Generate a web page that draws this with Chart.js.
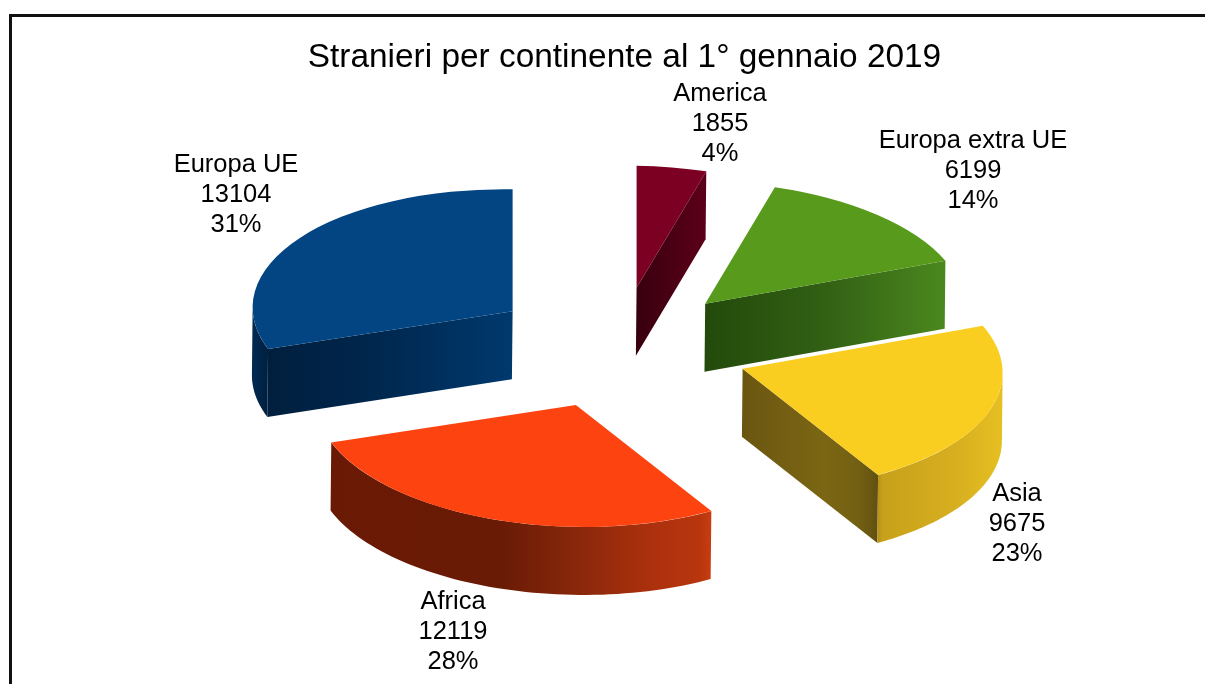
<!DOCTYPE html>
<html>
<head>
<meta charset="utf-8">
<style>
html,body{margin:0;padding:0;background:#fff;overflow:hidden}
#wrap{position:absolute;left:0;top:0;width:1205px;height:684px}
#frame{position:absolute;left:9px;top:14px;width:1300px;height:800px;border:3px solid #111;box-sizing:border-box}
canvas{position:absolute;left:0;top:0}
</style>
<script src="https://cdn.jsdelivr.net/npm/chart.js@4"></script>
</head>
<body>
<div id="wrap"><div id="frame"></div><canvas id="c" width="1205" height="684"></canvas></div>
<script>
const categories = ['America', 'Europa extra UE', 'Asia', 'Africa', 'Europa UE'];
const values = [1855, 6199, 9675, 12119, 13104];
const percents = ['4%', '14%', '23%', '28%', '31%'];
const topColors = ['#7b0022', '#579a1c', '#f9ce20', '#fd430f', '#024582'];

// Styling of the extruded walls (x-fraction, colour), not data
const radialShades = [
  [[0, '#38000f'], [1, '#5c0019']],
  [[0, '#234a0b'], [0.5, '#326014'], [1, '#4b881e']],
  [[0, '#6b5611'], [0.6, '#7b6614'], [0.85, '#746013'], [1, '#625010']],
  null,
  [[0, '#001f3e'], [0.4, '#00264c'], [1, '#00396e']]
];
const arcShades = [
  null,
  null,
  [[0, '#b8931a'], [0.04, '#c8a11b'], [0.6, '#d6ae1f'], [1, '#e6bf22']],
  [[0, '#6a1a04'], [0.45, '#6a1b05'], [0.62, '#84260a'], [0.85, '#ad310d'], [0.97, '#b8360e'], [1, '#c93d10']],
  [[0, '#002a52'], [1, '#001f3e']]
];
const labelCenters = [[720, 124], [973, 171], [1017, 524], [453, 632], [236, 195]];

const view = { cx: 619, cy: 348, rx: 260, skew: 4, ry: 122, depthX: -0.7, depthY: 68, explode: 0.5 };

function project(el, angle, rad) {
  const mid = (el.startAngle + el.endAngle) / 2;
  const lx = view.explode * Math.cos(mid) + rad * Math.cos(angle);
  const ly = view.explode * Math.sin(mid) + rad * Math.sin(angle);
  return { x: view.cx + view.rx * lx, y: view.cy + view.skew * lx + view.ry * ly };
}

function wallGradient(ctx, x0, x1, stops) {
  const g = ctx.createLinearGradient(x0, 0, x1, 0);
  stops.forEach(s => g.addColorStop(s[0], s[1]));
  return g;
}

function fillWall(ctx, pts, stops) {
  const xs = pts.map(p => p.x);
  const x0 = Math.min(...xs), x1 = Math.max(...xs);
  ctx.beginPath();
  pts.forEach((p, i) => i ? ctx.lineTo(p.x, p.y) : ctx.moveTo(p.x, p.y));
  for (let i = pts.length - 1; i >= 0; i--) ctx.lineTo(pts[i].x + view.depthX, pts[i].y + view.depthY);
  ctx.closePath();
  ctx.fillStyle = wallGradient(ctx, x0, x1, stops);
  ctx.fill();
}

const pie3d = {
  id: 'pie3d',
  beforeDatasetDraw(chart, args) {
    const ctx = chart.ctx;
    const arcs = args.meta.data;
    arcs.forEach((el, i) => {
      const radial = radialShades[i], arc = arcShades[i];
      // side walls
      if (radial) {
        const edge = i < 3 ? el.endAngle : el.startAngle;
        fillWall(ctx, [project(el, edge, 0), project(el, edge, 1)].sort((a, b) => a.x - b.x), radial);
      }
      if (arc) {
        const from = i === 4 ? el.startAngle : Math.max(el.startAngle, 0);
        const to = Math.min(el.endAngle, Math.PI);
        const pts = [];
        const n = 60;
        for (let k = 0; k <= n; k++) pts.push(project(el, from + (to - from) * k / n, 1));
        pts.sort((a, b) => a.x - b.x);
        fillWall(ctx, pts, arc);
      }
      // top face, drawn by the library's own arc element
      const mid = (el.startAngle + el.endAngle) / 2;
      const r = el.outerRadius;
      ctx.save();
      ctx.translate(view.cx, view.cy);
      ctx.transform(view.rx / r, view.skew / r, 0, view.ry / r, 0, 0);
      ctx.translate(-el.x + view.explode * r * Math.cos(mid), -el.y + view.explode * r * Math.sin(mid));
      el.draw(ctx);
      ctx.restore();
    });
    return false;
  },
  afterDraw(chart) {
    const ctx = chart.ctx;
    ctx.save();
    ctx.fillStyle = '#000';
    ctx.font = '25.5px "Liberation Sans"';
    ctx.textAlign = 'center';
    ctx.textBaseline = 'middle';
    categories.forEach((name, i) => {
      const [x, y] = labelCenters[i];
      ctx.fillText(name, x, y - 30);
      ctx.fillText(String(values[i]), x, y);
      ctx.fillText(percents[i], x, y + 30);
    });
    ctx.restore();
  }
};

new Chart(document.getElementById('c'), {
  type: 'pie',
  data: {
    labels: categories,
    datasets: [{ data: values, backgroundColor: topColors, borderWidth: 0, hoverOffset: 0, clip: false }]
  },
  options: {
    responsive: false,
    animation: false,
    events: [],
    radius: 200,
    layout: { padding: { left: 44, top: 38 } },
    plugins: {
      legend: { display: false },
      tooltip: { enabled: false },
      title: {
        display: true,
        text: 'Stranieri per continente al 1° gennaio 2019',
        color: '#000',
        font: { family: '"Liberation Sans"', size: 33.4, weight: 'normal' },
        padding: 0
      }
    }
  },
  plugins: [pie3d]
});
</script>
</body>
</html>
